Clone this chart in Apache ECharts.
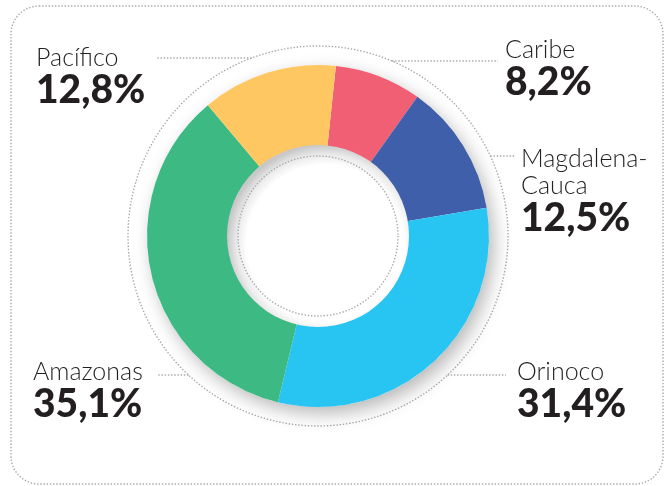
<!DOCTYPE html>
<html>
<head>
<meta charset="utf-8">
<script src="https://cdn.jsdelivr.net/npm/echarts@6/dist/echarts.min.js"></script>
<style>
  html, body { margin: 0; padding: 0; background: #fff; }
  #chart { width: 666px; height: 486px; }
</style>
</head>
<body>
<div id="chart"></div>
<script>
// datos de las cuencas (%), sentido horario desde arriba
const regions = ['Caribe', 'Magdalena-Cauca', 'Orinoco', 'Amazonas', 'Pacífico'];
const shares = [8.2, 12.5, 31.4, 35.1, 12.8];
const colors = ['#f05f73', '#3f5faa', '#28c4f2', '#3db983', '#fec762'];

// posición de cada etiqueta: [x texto, y texto, y línea, x fin de línea]
const labelAnchors = [
  [505, 36, 61, 498],
  [521, 145, 156, 516],
  [517, 358, 375, 506],
  [33, 358, 375, 157],
  [36, 44, 58, 157]
];

const CX = 318, CY = 236, RING = 190;

const chart = echarts.init(document.getElementById('chart'), null, { renderer: 'canvas' });

const dotted = { stroke: '#a8a8a8', lineWidth: 1.4, lineDash: [1.4, 1.8] };

chart.setOption({
  backgroundColor: '#fff',
  animation: false,
  graphic: [
    // marco punteado
    {
      type: 'rect', z: 0,
      shape: { x: 11, y: 6, width: 652, height: 478, r: 28 },
      style: Object.assign({ fill: 'none' }, dotted)
    },
    // anillo exterior punteado
    {
      type: 'circle', z: 0,
      shape: { cx: CX, cy: CY, r: RING },
      style: Object.assign({ fill: 'none' }, dotted)
    },
    // hueco central con sombra interior
    {
      type: 'circle', z: 100,
      shape: { cx: CX, cy: CY, r: 91 },
      style: {
        fill: new echarts.graphic.RadialGradient(0.54, 0.54, 0.54, [
          { offset: 0, color: '#ffffff' },
          { offset: 0.8, color: '#ffffff' },
          { offset: 0.9, color: '#ebebeb' },
          { offset: 1, color: '#c8c8c8' }
        ])
      }
    },
    {
      type: 'circle', z: 101,
      shape: { cx: CX, cy: CY, r: 80 },
      style: Object.assign({ fill: 'none' }, dotted)
    }
  ],
  series: [
    // sombra del anillo
    {
      type: 'pie', silent: true, z: 1,
      center: [CX, CY], radius: [90, 171],
      label: { show: false }, labelLine: { show: false },
      data: [{ value: 1 }],
      itemStyle: {
        color: '#fff',
        shadowBlur: 18, shadowColor: 'rgba(0,0,0,0.28)',
        shadowOffsetX: 5, shadowOffsetY: 7
      }
    },
    {
      type: 'pie', z: 2,
      center: [CX, CY], radius: [90, 171],
      startAngle: 84, clockwise: true,
      emphasis: { disabled: true },
      data: regions.map((n, i) => ({ name: n, value: shares[i], itemStyle: { color: colors[i] } })),
      label: {
        show: true,
        position: 'outside',
        overflow: 'none',
        formatter: p => '{n|' + p.name.replace('-', '-\n') + '}\n{v|' + p.value.toFixed(1).replace('.', ',') + '%}',
        rich: {
          n: { fontFamily: 'Lato', fontWeight: 300, fontSize: 25, lineHeight: 27, color: '#231f20' },
          v: { fontFamily: 'Lato', fontWeight: 900, fontSize: 39, lineHeight: 38, color: '#231f20' }
        }
      },
      labelLine: {
        show: true,
        lineStyle: { color: '#a8a8a8', width: 1.4, type: [1.4, 1.8] }
      },
      labelLayout: params => {
        const a = labelAnchors[params.dataIndex];
        const left = a[3] < CX;
        const dy = a[2] - CY;
        const rx = CX + (left ? -1 : 1) * Math.sqrt(RING * RING - dy * dy);
        return {
          x: a[0], y: a[1], align: 'left', verticalAlign: 'top',
          labelLinePoints: [[rx, a[2]], [rx, a[2]], [a[3], a[2]]]
        };
      }
    }
  ]
});
</script>
</body>
</html>
